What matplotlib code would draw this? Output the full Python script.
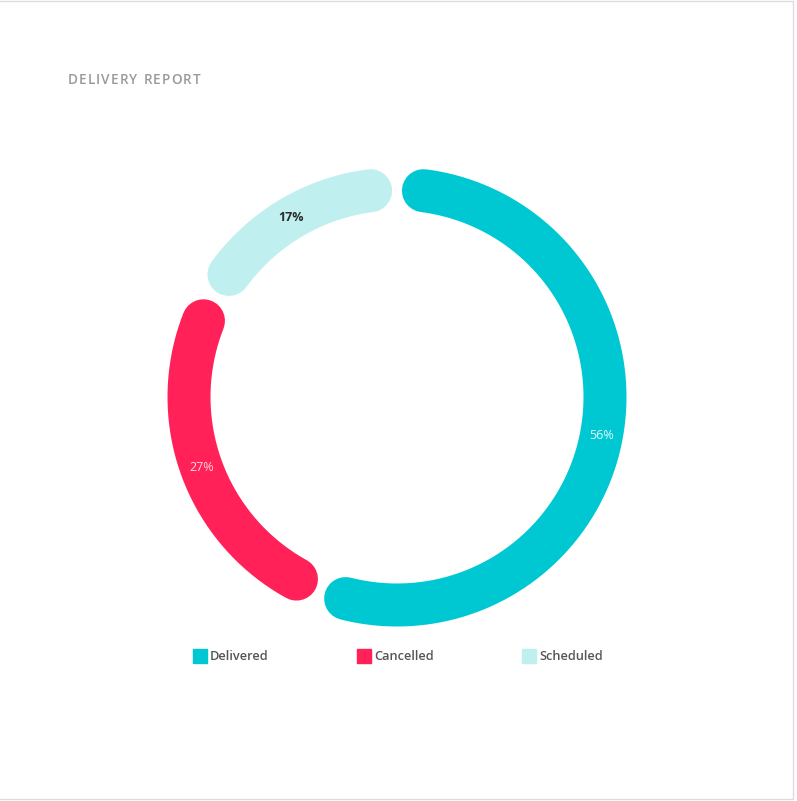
import numpy as np
import matplotlib.pyplot as plt
from matplotlib.patches import Rectangle

labels = ["Delivered", "Cancelled", "Scheduled"]
values = [56, 27, 17]
colors = ["#00C8D3", "#FF2158", "#C0EFF0"]
label_colors = ["#E6FAFB", "#FFD6E1", "#2B2B2B"]
title = "DELIVERY REPORT"

W, H = 797, 801
cx, cy = 397, 397
radius = 208
ring_px = 43
gap_deg = 7.3

plt.rcParams['font.family'] = ['Open Sans', 'DejaVu Sans']

fig = plt.figure(figsize=(W / 100, H / 100), dpi=100)
ax = fig.add_axes([0, 0, 1, 1])
ax.set_xlim(0, W)
ax.set_ylim(H, 0)
ax.axis('off')

# light frame round the card
ax.add_patch(Rectangle((-2, 0.5), W - 1.5, H - 2.5, fill=False, ec="#DCDCDC", lw=1))

# title with letter spacing, one char at a time
renderer = fig.canvas.get_renderer()
x = 68
for ch in title:
    t = ax.text(x, 79.5, ch, fontsize=9.8, color="#9A9A9A", va='center',
                ha='left', fontweight='semibold')
    w = t.get_window_extent(renderer).width if ch != " " else 3.5
    x += w + 1.1

lw_pt = ring_px * 72 / 100
start = 0.0
total = sum(values)
for val, col, lab, lc in zip(values, colors, labels, label_colors):
    span = val / total * 360
    a0, a1 = start + gap_deg, start + span - gap_deg
    th = np.radians(np.linspace(a0, a1, 200))
    # clockwise from 12 o'clock, y axis points down
    ax.plot(cx + radius * np.sin(th), cy - radius * np.cos(th), color=col,
            lw=lw_pt, solid_capstyle='round')
    mid = np.radians(start + span / 2)
    ax.text(cx + radius * np.sin(mid), cy - radius * np.cos(mid), f"{val}%",
            ha='center', va='center', fontsize=9, color=lc,
            fontweight='bold' if lc == "#2B2B2B" else 'normal')
    start += span

for i, (lab, col) in enumerate(zip(labels, colors)):
    x0 = 193 + i * 164.5
    ax.add_patch(Rectangle((x0, 649), 14, 14, color=col))
    ax.text(x0 + 17, 656.5, lab, fontsize=9.2, color="#555555",
            va='center', ha='left', fontweight='semibold')

fig.savefig("out.png", dpi=100)
